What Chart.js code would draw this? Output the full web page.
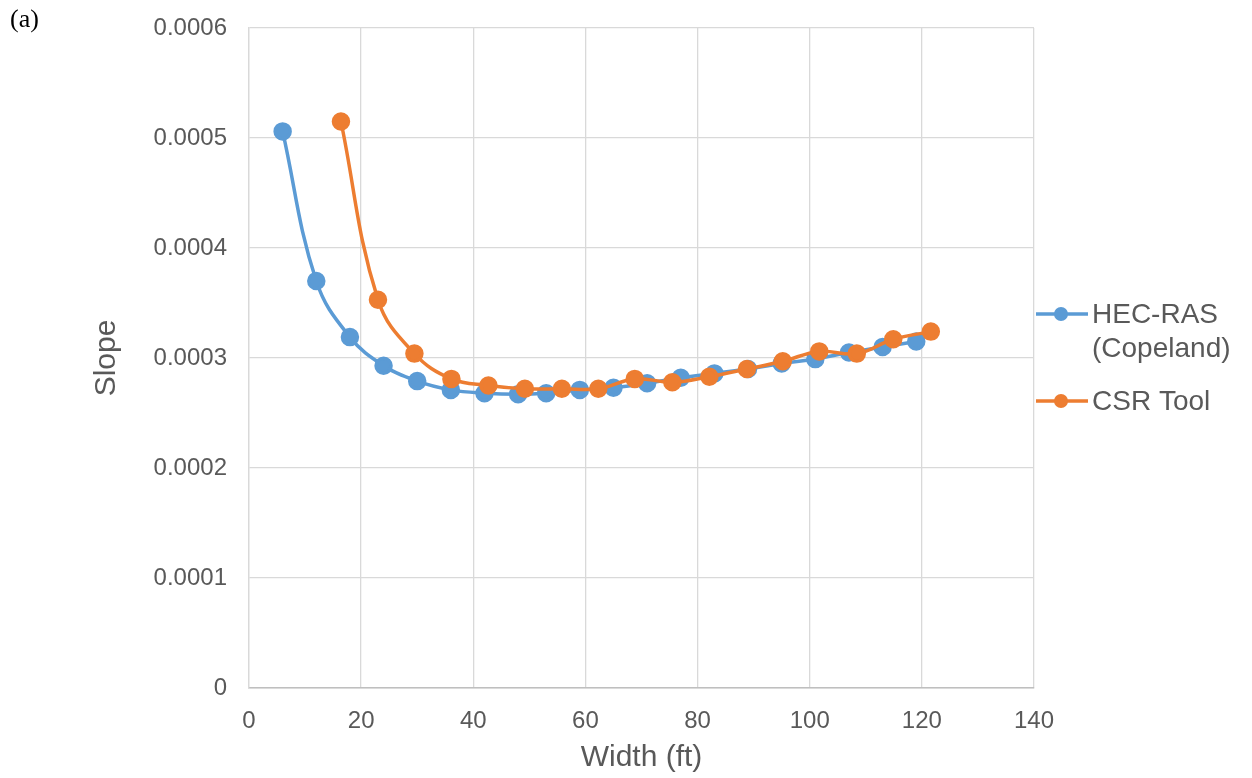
<!DOCTYPE html>
<html>
<head>
<meta charset="utf-8">
<script src="https://cdn.jsdelivr.net/npm/chart.js@4.4.1/dist/chart.umd.min.js"></script>
<style>
  html, body { margin: 0; padding: 0; background: #fff; }
  #wrap { position: relative; width: 1252px; height: 778px; }
  #tag { position: absolute; left: 10px; top: 4px; font: 26px "Liberation Serif", serif; color: #000; }
</style>
</head>
<body>
<div id="wrap">
  <canvas id="chart" width="1252" height="778"></canvas>
  <div id="tag">(a)</div>
</div>
<script>
// HEC-RAS (Copeland)
const hecWidth = [6, 12, 18, 24, 30, 36, 42, 48, 53, 59, 65, 71, 77, 83, 89, 95, 101, 107, 113, 119];
const hecSlope = [0.000506, 0.00037, 0.000319, 0.000293, 0.000279, 0.000271, 0.000268, 0.000267, 0.000268, 0.000271,
                  0.000273, 0.000277, 0.000282, 0.000286, 0.00029, 0.000295, 0.000299, 0.000305, 0.00031, 0.000315];

// CSR Tool
const csrWidth = [16.4, 23, 29.5, 36.1, 42.7, 49.2, 55.8, 62.3, 68.8, 75.5, 82.1, 88.8, 95.2, 101.7, 108.4, 114.9, 121.6];
const csrSlope = [0.000515, 0.000353, 0.000304, 0.000281, 0.000275, 0.000272, 0.000272, 0.000272, 0.000281, 0.000278,
                  0.000283, 0.00029, 0.000297, 0.000306, 0.000304, 0.000317, 0.000324];

const seriesNames = [['HEC-RAS', '(Copeland)'], ['CSR Tool']];
const yTickLabels = ['0', '0.0001', '0.0002', '0.0003', '0.0004', '0.0005', '0.0006'];
const xTickLabels = ['0', '20', '40', '60', '80', '100', '120', '140'];

const BLUE = '#5b9bd5';
const ORANGE = '#ed7d31';
const FONT = '"Liberation Sans", Arial, sans-serif';

const toPoints = (xs, ys) => xs.map((x, i) => ({ x: x, y: ys[i] }));

// legend drawn by hand so the first label can wrap onto two lines
const sideLegend = {
  id: 'sideLegend',
  afterDraw(chart) {
    const ctx = chart.ctx;
    const rows = [
      { color: BLUE, y: 314, lines: seriesNames[0] },
      { color: ORANGE, y: 401, lines: seriesNames[1] }
    ];
    ctx.save();
    ctx.font = '28px ' + FONT;
    ctx.textBaseline = 'middle';
    rows.forEach(r => {
      ctx.strokeStyle = r.color;
      ctx.lineWidth = 3.5;
      ctx.beginPath();
      ctx.moveTo(1036, r.y);
      ctx.lineTo(1088, r.y);
      ctx.stroke();
      ctx.fillStyle = r.color;
      ctx.beginPath();
      ctx.arc(1061, r.y, 7, 0, Math.PI * 2);
      ctx.fill();
      ctx.fillStyle = '#595959';
      r.lines.forEach((t, i) => ctx.fillText(t, 1092, r.y + 1 + i * 34));
    });
    ctx.restore();
  }
};

new Chart(document.getElementById('chart'), {
  type: 'line',
  data: {
    datasets: [
      {
        label: seriesNames[0].join(' '),
        data: toPoints(hecWidth, hecSlope),
        borderColor: BLUE,
        backgroundColor: BLUE,
        borderWidth: 3.5,
        pointRadius: 7.5,
        pointHoverRadius: 7.5,
        tension: 0.4,
        order: 1
      },
      {
        label: seriesNames[1].join(' '),
        data: toPoints(csrWidth, csrSlope),
        borderColor: ORANGE,
        backgroundColor: ORANGE,
        borderWidth: 3.5,
        pointRadius: 7.5,
        pointHoverRadius: 7.5,
        tension: 0.4,
        order: 0
      }
    ]
  },
  options: {
    responsive: false,
    animation: false,
    layout: { padding: { top: 28, right: 218, left: 0, bottom: 0 } },
    plugins: {
      legend: { display: false },
      tooltip: { enabled: false }
    },
    scales: {
      x: {
        type: 'linear',
        min: 0,
        max: 140,
        afterFit: s => { s.height = 90; },
        afterBuildTicks: s => { s.ticks = xTickLabels.map(Number).map(v => ({ value: v })); },
        ticks: {
          padding: 19,
          color: '#595959',
          font: { family: FONT, size: 24 },
          callback: (v, i) => xTickLabels[i]
        },
        grid: { color: '#d9d9d9', lineWidth: 1.3, drawTicks: false },
        border: { color: '#bfbfbf', width: 1.5 },
        title: {
          display: true,
          text: 'Width (ft)',
          color: '#595959',
          font: { family: FONT, size: 30 },
          padding: { top: 0, bottom: 2 }
        }
      },
      y: {
        type: 'linear',
        min: 0,
        max: 0.0006,
        afterFit: s => { s.width = 249; s.paddingTop = 0; s.paddingBottom = 0; },
        afterBuildTicks: s => { s.ticks = yTickLabels.map(Number).map(v => ({ value: v })); },
        ticks: {
          padding: 22,
          color: '#595959',
          font: { family: FONT, size: 24 },
          callback: (v, i) => yTickLabels[i]
        },
        grid: { color: '#d9d9d9', lineWidth: 1.3, drawTicks: false },
        border: { color: '#d9d9d9', width: 1.3 },
        title: {
          display: true,
          text: 'Slope',
          color: '#595959',
          font: { family: FONT, size: 30 },
          padding: { top: 89, bottom: 0 }
        }
      }
    }
  },
  plugins: [sideLegend]
});
</script>
</body>
</html>
